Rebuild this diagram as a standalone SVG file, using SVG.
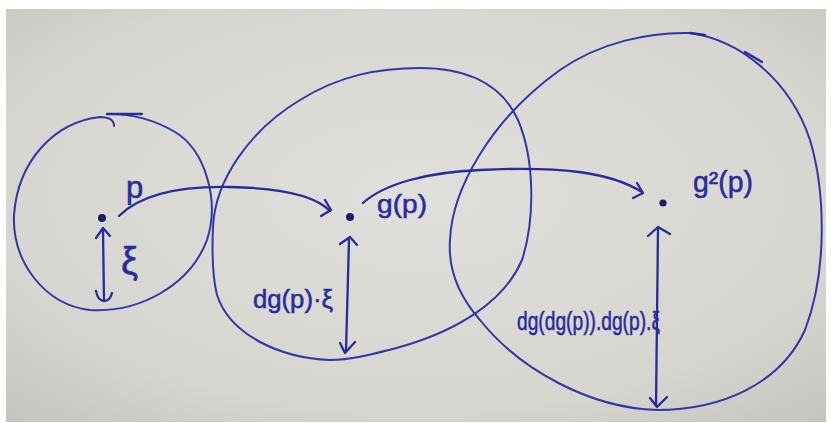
<svg xmlns="http://www.w3.org/2000/svg" width="831" height="423" viewBox="0 0 831 423">
<defs>
<radialGradient id="bg" cx="0.5" cy="0.45" r="0.75">
<stop offset="0" stop-color="#e0dfdb"/>
<stop offset="0.7" stop-color="#d6d5d0"/>
<stop offset="1" stop-color="#c4c3bd"/>
</radialGradient>
<style>
.ring{fill:none;stroke:#3337a6;stroke-width:2;stroke-linecap:round;stroke-linejoin:round}
.ink{fill:none;stroke:#282b9c;stroke-width:2.3;stroke-linecap:round;stroke-linejoin:round}
.dot{fill:#1a1c6e}
.lbl{fill:#282b9c;stroke:#282b9c;stroke-width:0.5;font-family:"Liberation Sans","DejaVu Sans",sans-serif}
</style>
</defs>
<rect x="0" y="0" width="831" height="423" fill="#ffffff"/>
<rect x="6" y="9" width="820" height="413" fill="url(#bg)"/>

<g id="node-p">
<path class="ring" d="M114,126 Q114,117 100,117 C55,122 18,160 14,215 C12,262 45,305 90,310 C140,313 190,285 207,240 C220,200 205,150 175,132 C155,120 130,113 107,114"/>
<path class="ink" d="M107,114 L142,114" stroke-width="2.8"/>
<circle class="dot" cx="102" cy="218" r="4"/>
<text class="lbl" x="126" y="198" font-size="31">p</text>
<path class="ink" d="M103,230 L104,300 M96,238 L103,228 L110,236 M96,291 Q98,301 104,301 Q110,301 112,293"/>
<text class="lbl" x="121" y="274" font-size="38">ξ</text>
</g>

<g id="node-gp">
<path class="ring" d="M213,227 C215,180 250,130 300,100 C340,75 380,68 420,68 C460,68 500,80 518,120 C535,160 535,220 522,260 C505,300 460,330 400,347 C370,355 350,360 330,360 C280,358 230,335 217,295 C212,275 212,250 213,227 Z"/>
<circle class="dot" cx="350" cy="217" r="4"/>
<text class="lbl" x="377" y="213" font-size="26" textLength="50" lengthAdjust="spacingAndGlyphs">g(p)</text>
<path class="ink" d="M349,240 L346,351 M340,244 L350,237 L357,245 M340,343 L345,353 L355,342"/>
<text class="lbl" x="253" y="308" font-size="25" textLength="80" lengthAdjust="spacingAndGlyphs">dg(p)·ξ</text>
</g>

<g id="node-g2p">
<path class="ring" d="M450,240 C452,190 490,120 560,70 C600,42 650,32 690,33 C740,40 790,80 810,140 C825,190 828,270 805,330 C780,385 720,410 657,410 C590,408 520,370 480,320 C458,295 448,268 450,240 Z"/>
<path class="ink" d="M690,33 L705,35 M745,52 L762,62" stroke-width="2.6"/>
<circle class="dot" cx="663" cy="203" r="3.6"/>
<text class="lbl" x="693" y="192" font-size="29" textLength="60" lengthAdjust="spacingAndGlyphs">g²(p)</text>
<path class="ink" d="M658,229 L656,406 M648,236 L658,227 L670,234 M650,398 L657,407 L667,397"/>
<text class="lbl" x="517" y="330" font-size="26" textLength="143" lengthAdjust="spacingAndGlyphs">dg(dg(p)).dg(p).ξ</text>
</g>

<g id="connectors">
<path class="ink" d="M119,216 C140,195 180,186 230,187 C280,188 315,195 330,211"/>
<path class="ink" d="M325,200 L331,210 L321,216"/>
<path class="ink" d="M363,203 C385,183 430,172 480,170 C560,166 610,172 642,192"/>
<path class="ink" d="M637,183 L643,193 L633,198"/>
</g>
</svg>
